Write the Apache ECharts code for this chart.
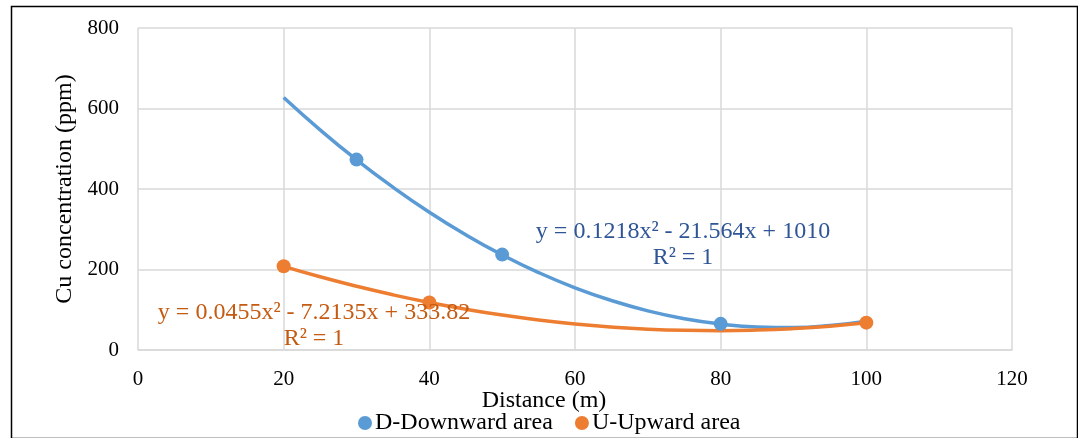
<!DOCTYPE html>
<html>
<head>
<meta charset="utf-8">
<script src="https://cdn.jsdelivr.net/npm/echarts@6/dist/echarts.min.js"></script>
<style>
  html, body { margin: 0; padding: 0; background: #fff; }
  #main { width: 1078px; height: 438px; }
</style>
</head>
<body>
<div id="main"></div>
<script>
// measured points
var downX = [30, 50, 80];
var downY = [473, 237, 65];
var upX = [20, 40, 100];
var upY = [208, 118, 68];

// trendline readings (x = 20..100 step 5)
var trendX = [20, 25, 30, 35, 40, 45, 50, 55, 60, 65, 70, 75, 80, 85, 90, 95, 100];
var downTrend = [627.4, 547.0, 472.7, 404.5, 342.3, 286.3, 236.3, 192.4, 154.6, 123.0, 97.3, 77.8, 64.4, 57.1, 55.8, 60.7, 71.6];
var upTrend = [207.8, 181.9, 158.4, 137.1, 118.1, 101.4, 86.9, 74.7, 64.8, 57.2, 51.8, 48.8, 47.9, 49.4, 53.2, 59.2, 67.5];

var downName = 'D-Downward area';
var upName = 'U-Upward area';
var downEq = 'y = 0.1218x² - 21.564x + 1010';
var upEq = 'y = 0.0455x² - 7.2135x + 333.82';

function pairs(xs, ys) {
    return xs.map(function (x, i) { return [x, ys[i]]; });
}

var font = '"Liberation Serif", "Times New Roman", serif';
var blue = '#5B9BD5';
var orange = '#ED7D31';

var myChart = echarts.init(document.getElementById('main'));

option = {
    animation: false,
    textStyle: { fontFamily: font },
    grid: {
        left: 138,
        right: 66,
        top: 28,
        bottom: 88
    },
    legend: {
        data: [downName, upName],
        bottom: 3,
        left: 358,
        padding: 0,
        itemWidth: 14,
        itemHeight: 14,
        itemGap: 22,
        icon: 'circle',
        itemStyle: { opacity: 1 },
        textStyle: { fontFamily: font, fontSize: 24, color: '#000', padding: [0, 0, 0, -2] }
    },
    xAxis: {
        type: 'value',
        min: 0,
        max: 120,
        interval: 20,
        name: 'Distance (m)',
        nameLocation: 'middle',
        nameGap: 39,
        nameMoveOverlap: false,
        nameTextStyle: { fontFamily: font, fontSize: 24, color: '#000', padding: [0, 62, 0, 0] },
        axisLine: { show: true, lineStyle: { color: '#d9d9d9', width: 1.5 } },
        axisTick: { show: false },
        axisLabel: { fontFamily: font, fontSize: 21, color: '#000', margin: 19 },
        splitLine: { show: true, lineStyle: { color: '#d9d9d9', width: 1.5 } }
    },
    yAxis: {
        type: 'value',
        min: 0,
        max: 800,
        interval: 200,
        name: 'Cu concentration (ppm)',
        nameLocation: 'middle',
        nameGap: 56,
        nameTextStyle: { fontFamily: font, fontSize: 24, color: '#000' },
        axisLine: { show: false },
        axisTick: { show: false },
        axisLabel: { fontFamily: font, fontSize: 21, color: '#000', margin: 19 },
        splitLine: { show: true, lineStyle: { color: '#d9d9d9', width: 1.5 } }
    },
    series: [
        {
            name: downName + ' trend',
            type: 'line',
            data: pairs(trendX, downTrend),
            smooth: true,
            showSymbol: false,
            symbol: 'none',
            lineStyle: { color: blue, width: 3.5 },
            z: 2
        },
        {
            name: upName + ' trend',
            type: 'line',
            data: pairs(trendX, upTrend),
            smooth: true,
            showSymbol: false,
            symbol: 'none',
            lineStyle: { color: orange, width: 3.5 },
            z: 2
        },
        {
            name: downName,
            type: 'scatter',
            data: pairs(downX, downY),
            symbolSize: 14,
            itemStyle: { color: blue, opacity: 1 },
            z: 3
        },
        {
            name: upName,
            type: 'scatter',
            data: pairs(upX, upY),
            symbolSize: 14,
            itemStyle: { color: orange, opacity: 1 },
            z: 4
        }
    ],
    graphic: [
        {
            type: 'rect',
            left: 9,
            top: 4,
            shape: { width: 1066, height: 432 },
            style: { fill: 'none', stroke: '#000', lineWidth: 1.5 },
            silent: true
        },
        {
            type: 'text',
            x: 683,
            y: 245,
            style: {
                text: downEq + '\nR² = 1',
                fill: '#2F5597',
                font: '24px ' + font,
                align: 'center',
                verticalAlign: 'middle',
                lineHeight: 26
            },
            z: 10
        },
        {
            type: 'text',
            x: 314,
            y: 326,
            style: {
                text: upEq + '\nR² = 1',
                fill: '#C55A11',
                font: '24px ' + font,
                align: 'center',
                verticalAlign: 'middle',
                lineHeight: 26
            },
            z: 10
        }
    ]
};

myChart.setOption(option, true);
</script>
</body>
</html>
